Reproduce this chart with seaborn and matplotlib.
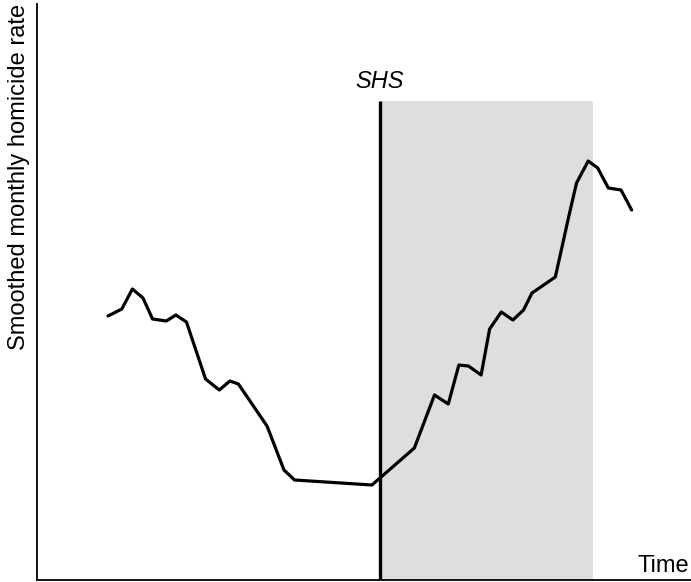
import numpy as np
import pandas as pd
import matplotlib
matplotlib.use("Agg")
import matplotlib.pyplot as plt
import seaborn as sns

# months since start of series
months = [0.0, 1.3, 2.3, 3.3, 4.2, 5.5, 6.4, 7.4, 9.2, 10.5, 11.5, 12.3, 15.0, 16.6, 17.6,
          24.9, 28.9, 30.8, 32.1, 33.1, 34.0, 35.2, 36.0, 37.1, 38.2, 39.2, 40.0, 42.2,
          43.5, 44.2, 45.3, 46.2, 47.2, 48.4, 49.4]
rate = [2.64, 2.71, 2.91, 2.82, 2.61, 2.59, 2.65, 2.58, 2.01, 1.90, 1.99, 1.96, 1.54, 1.10, 1.00,
        0.95, 1.32, 1.85, 1.76, 2.15, 2.14, 2.05, 2.51, 2.68, 2.60, 2.70, 2.87, 3.03,
        3.65, 3.97, 4.19, 4.12, 3.92, 3.90, 3.70]
shs_start = 25.66
shs_end = 45.75
shade_top = 4.79

data = pd.DataFrame({"month": months, "rate": rate})

sns.set_style("white")
plt.rcParams['font.family'] = ['Liberation Sans', 'DejaVu Sans']
plt.rcParams['text.color'] = 'black'
plt.rcParams['axes.labelcolor'] = 'black'

fig = plt.figure(figsize=(6.91, 5.82), dpi=100)
ax = fig.add_axes([37 / 691, 2 / 582, 654 / 691, 576 / 582])

ax.fill_between([shs_start, shs_end], 0, shade_top, color='#dedede', lw=0, zorder=0)
ax.vlines(shs_start, 0, shade_top, color='black', lw=2.4, zorder=2)
sns.lineplot(data=data, x='month', y='rate', color='black', lw=2.3, ax=ax, zorder=3)

ax.text(shs_start, 4.92, "SHS", style='italic', fontsize=17,
        ha='center', va='baseline')

ax.set_xlim(-6.7, 55.0)
ax.set_ylim(0, 5.76)
ax.set_xticks([])
ax.set_yticks([])
ax.set_xlabel("")
ax.set_ylabel("Smoothed monthly homicide rate", fontsize=17, loc='top')
ax.yaxis.set_label_coords(-0.01, 1.0)
ax.text(0.997, 0.014, "Time", transform=ax.transAxes, fontsize=17, ha='right', va='baseline')

sns.despine(ax=ax)
for s in ['left', 'bottom']:
    ax.spines[s].set_linewidth(1.3)
    ax.spines[s].set_color('black')

fig.savefig("out.png", dpi=100)
